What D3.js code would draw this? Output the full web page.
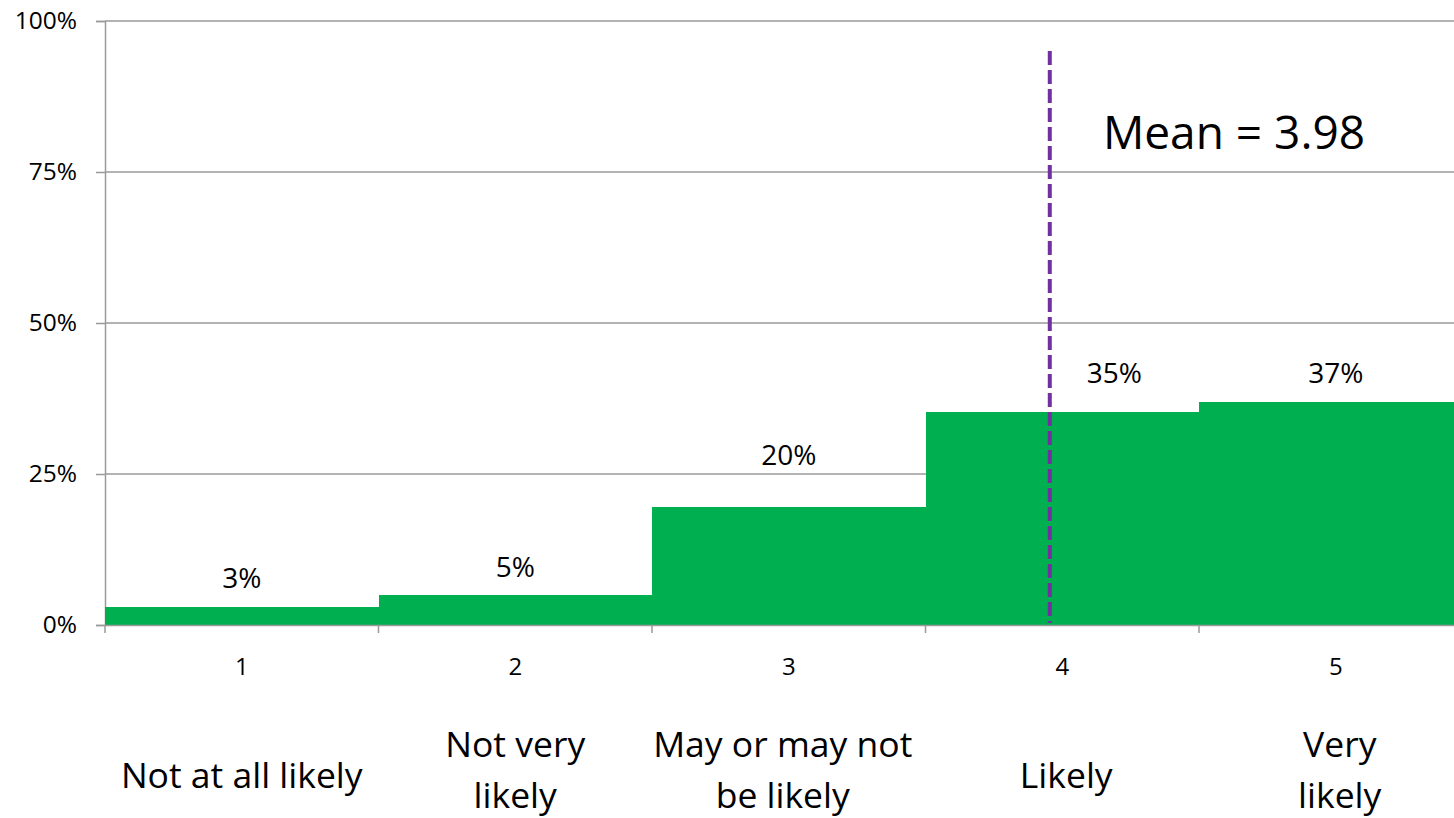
<!DOCTYPE html>
<html>
<head>
<meta charset="utf-8">
<title>Likelihood distribution</title>
<script src="https://d3js.org/d3.v7.min.js"></script>
<style>
  body { margin: 0; background: #fff; }
  text { font-family: "Open Sans", "Noto Sans", sans-serif; fill: #000; }
</style>
</head>
<body>
<div id="chart"></div>
<script type="text/javascript">

// data
var categories = ["1", "2", "3", "4", "5"];
var answerLabels = [["Not at all likely"], ["Not very", "likely"], ["May or may not", "be likely"], ["Likely"], ["Very", "likely"]];
var shares = [3.0, 5.0, 19.6, 35.3, 36.9];
var shareLabels = ["3%", "5%", "20%", "35%", "37%"];
var yTicks = [0, 25, 50, 75, 100];
var meanScore = 3.98;

// layout
var width = 1454, height = 818;
var plotLeft = 105, plotTop = 21, plotBottom = 625;
var step = 273.5;
// label lift above the bar top, and sideways shift (35% moved off the mean line)
var labelLift = [19, 18, 42, 29, 19];
var labelShift = [0, 0, 0, 52, 0];
var answerShift = [0, 0, -6, 4, 4];

var svg = d3.select("#chart").append("svg")
    .attr("width", width).attr("height", height);

var x = d3.scaleBand().domain(categories)
    .range([plotLeft, plotLeft + step * categories.length]).padding(0);
var y = d3.scaleLinear().domain([0, 100]).range([plotBottom, plotTop]);

// gridlines
svg.append("g").selectAll("line").data(yTicks.filter(function(d){ return d > 0; }))
  .enter().append("line")
    .attr("x1", plotLeft).attr("x2", width)
    .attr("y1", function(d){ return y(d); }).attr("y2", function(d){ return y(d); })
    .attr("stroke", "#9a9a9a").attr("stroke-width", 1.5);

// y axis
var yAxis = svg.append("g").attr("transform", "translate(" + plotLeft + ",0)")
  .call(d3.axisLeft(y).tickValues(yTicks).tickSize(9).tickPadding(19)
        .tickFormat(function(d){ return d + "%"; }));
yAxis.select(".domain").attr("stroke", "#9a9a9a").attr("stroke-width", 1.5);
yAxis.selectAll(".tick line").attr("stroke", "#9a9a9a").attr("stroke-width", 1.5);
yAxis.selectAll("text").attr("font-size", 24.5).attr("font-family", "Open Sans").attr("fill", "#000");

// bars
svg.append("g").selectAll("rect").data(shares).enter().append("rect")
    .attr("x", function(d, i){ return x(categories[i]); })
    .attr("width", x.bandwidth() + 0.5)
    .attr("y", function(d){ return y(d); })
    .attr("height", function(d){ return y(0) - y(d); })
    .attr("fill", "#00AF50")
    .attr("shape-rendering", "crispEdges");

// x axis (ticks at band boundaries)
svg.append("line").attr("x1", plotLeft).attr("x2", width)
    .attr("y1", plotBottom + 0.5).attr("y2", plotBottom + 0.5)
    .attr("stroke", "#9a9a9a").attr("stroke-width", 1.5);
svg.append("g").selectAll("line").data(categories).enter().append("line")
    .attr("x1", function(d){ return x(d); }).attr("x2", function(d){ return x(d); })
    .attr("y1", plotBottom).attr("y2", plotBottom + 8)
    .attr("stroke", "#9a9a9a").attr("stroke-width", 1.5);
svg.append("g").selectAll("text").data(categories).enter().append("text")
    .attr("x", function(d){ return x(d) + x.bandwidth() / 2; })
    .attr("y", 675)
    .attr("text-anchor", "middle").attr("font-size", 24)
    .text(function(d){ return d; });

// data labels
svg.append("g").selectAll("text").data(shares).enter().append("text")
    .attr("x", function(d, i){ return x(categories[i]) + x.bandwidth() / 2 + labelShift[i]; })
    .attr("y", function(d, i){ return y(d) - labelLift[i]; })
    .attr("text-anchor", "middle").attr("font-size", 28)
    .text(function(d, i){ return shareLabels[i]; });

// answer wording under the axis
var answers = svg.append("g").selectAll("text").data(answerLabels).enter().append("text")
    .attr("text-anchor", "middle").attr("font-size", 35.5)
    .attr("x", function(d, i){ return x(categories[i]) + x.bandwidth() / 2 + answerShift[i]; })
    .attr("y", function(d){ return d.length == 1 ? 788 : 757; });
answers.selectAll("tspan").data(function(d){ return d; }).enter().append("tspan")
    .attr("x", function(){ return this.parentNode.getAttribute("x"); })
    .attr("dy", function(d, i){ return i == 0 ? 0 : 51; })
    .text(function(d){ return d; });

// mean line
var meanX = x(categories[0]) + x.bandwidth() / 2 + (meanScore - 1) * step - 7;
svg.append("line")
    .attr("x1", meanX).attr("x2", meanX)
    .attr("y1", 51).attr("y2", plotBottom - 2)
    .attr("stroke", "#7030A0").attr("stroke-width", 4)
    .attr("stroke-dasharray", "14,5");
svg.append("text")
    .attr("x", 1234).attr("y", 149)
    .attr("text-anchor", "middle").attr("font-size", 46)
    .text("Mean = " + meanScore.toFixed(2));

</script>
</body>
</html>
